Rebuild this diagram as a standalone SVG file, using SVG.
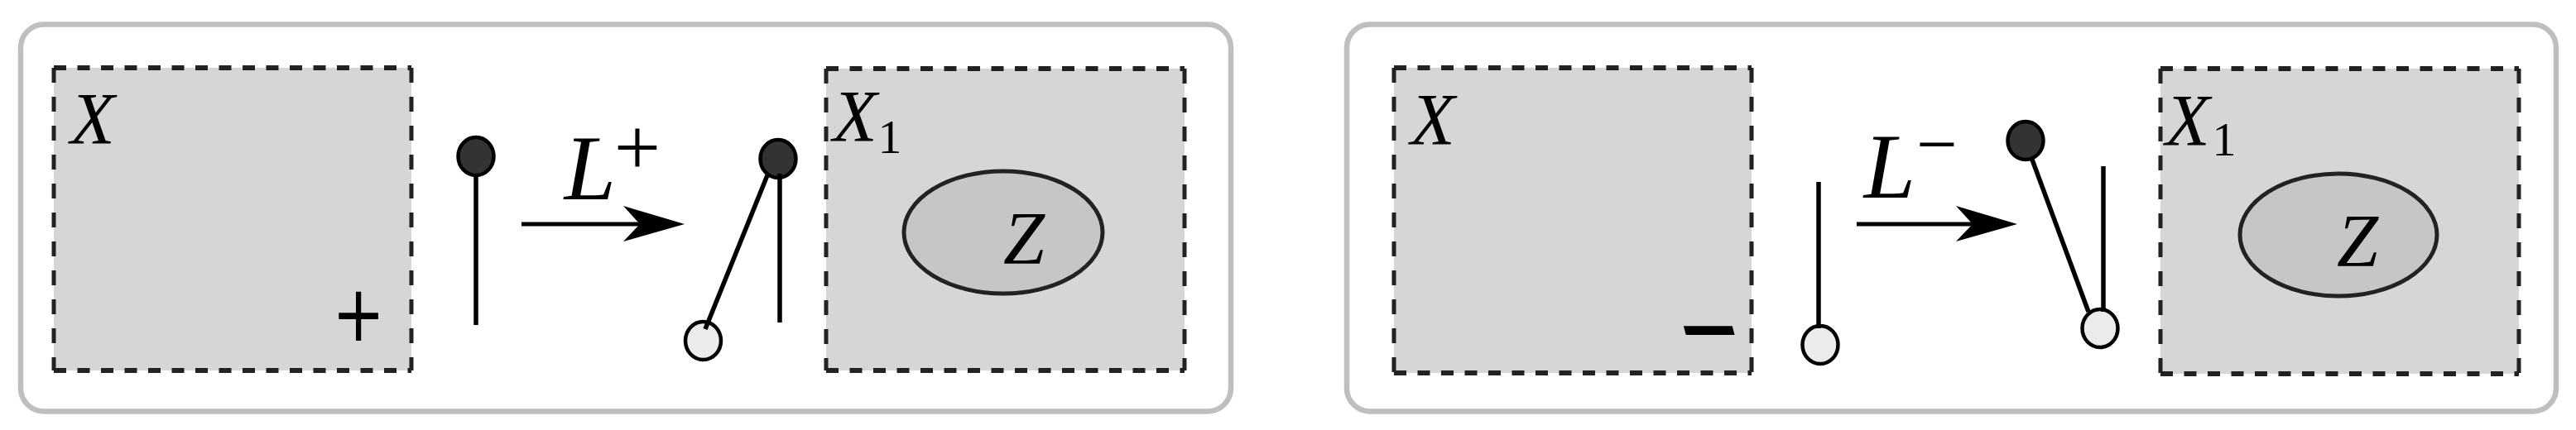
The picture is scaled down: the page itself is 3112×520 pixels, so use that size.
<svg xmlns="http://www.w3.org/2000/svg" width="3112" height="520" viewBox="0 0 3112 520">
<style>
.panel{fill:#ffffff;stroke:#bfbfbf;stroke-width:6.5}
.box{fill:#d6d6d6;stroke:none}
.dh{fill:none;stroke:#222222;stroke-width:6;stroke-dasharray:15 13.5}
.dv{fill:none;stroke:#222222;stroke-width:5;stroke-dasharray:18 17}
.math{font-family:"Liberation Serif","Times New Roman",serif;font-style:italic;fill:#000000}
.up{font-style:normal}
.sign{font-family:"DejaVu Sans",sans-serif;fill:#000000}
.head{fill:#333333;stroke:#000000;stroke-width:4.5}
.tail{fill:#ebebeb;stroke:#000000;stroke-width:4.5}
.stem{fill:none;stroke:#000000;stroke-width:5.5}
.zone{fill:#c6c6c6;stroke:#222222;stroke-width:5}
.arrow{fill:none;stroke:#000000;stroke-width:5;marker-end:url(#ah)}
</style>
<defs>
<marker id="ah" markerUnits="userSpaceOnUse" markerWidth="90" markerHeight="60" viewBox="-30 -30 90 60" refX="0" refY="0" orient="auto">
<path d="M54,0 L-20,-22 L0,0 L-20,21 Z" fill="#000000"/>
</marker>
</defs>

<g id="panel-plus">
<rect class="panel" x="25" y="29.5" width="1462" height="468" rx="28" ry="28"/>
</g>
<g id="panel-minus">
<rect class="panel" x="1627" y="29.5" width="1461" height="468" rx="28" ry="28"/>
</g>

<g id="box-X-plus">
<rect class="box" x="65" y="82" width="432" height="366"/>
<path class="dh" d="M65,82 H497 M65,448 H497"/>
<path class="dv" d="M65,82 V448 M497,82 V448"/>
<text class="math" x="112" y="173" font-size="88" text-anchor="middle">X</text>
<text class="sign" transform="translate(433,382) scale(1,1.25)" x="0" y="24" font-size="76" text-anchor="middle">+</text>
</g>

<g id="box-X1-plus">
<rect class="box" x="998" y="83" width="433" height="365"/>
<path class="dh" d="M998,83 H1431 M998,448 H1431"/>
<path class="dv" d="M998,83 V448 M1431,83 V448"/>
<text class="math" font-size="88"><tspan x="1033" y="170" text-anchor="middle">X</tspan><tspan class="up" x="1075" y="185" font-size="58" text-anchor="middle">1</tspan></text>
<g id="zone-Z-plus">
<ellipse class="zone" cx="1212" cy="281" rx="120" ry="74"/>
<text class="math" x="1237" y="319" font-size="90" text-anchor="middle">Z</text>
</g>
</g>

<g id="pin-plus-before">
<ellipse class="head" cx="575" cy="189" rx="21.5" ry="23"/>
<line class="stem" x1="575" y1="212" x2="575" y2="393"/>
</g>

<g id="pin-plus-after">
<ellipse class="head" cx="940" cy="192" rx="21.5" ry="23"/>
<ellipse class="tail" cx="849.5" cy="412" rx="21.5" ry="23"/>
<line class="stem" x1="942" y1="210" x2="942" y2="390"/>
<line class="stem" x1="927" y1="212" x2="852" y2="398"/>
</g>

<g id="box-X-minus">
<rect class="box" x="1684" y="82" width="432" height="369"/>
<path class="dh" d="M1684,82 H2116 M1684,451 H2116"/>
<path class="dv" d="M1684,82 V451 M2116,82 V451"/>
<text class="math" x="1731" y="174" font-size="88" text-anchor="middle">X</text>
<text class="sign" transform="translate(2064.5,398.5) skewX(15)" x="0" y="30" font-size="94" font-weight="bold" text-anchor="middle">−</text>
</g>

<g id="box-X1-minus">
<rect class="box" x="2610" y="83" width="433" height="369"/>
<path class="dh" d="M2610,83 H3043 M2610,452 H3043"/>
<path class="dv" d="M2610,83 V452 M3043,83 V452"/>
<text class="math" font-size="88"><tspan x="2643" y="175" text-anchor="middle">X</tspan><tspan class="up" x="2687" y="188" font-size="58" text-anchor="middle">1</tspan></text>
<g id="zone-Z-minus">
<ellipse class="zone" cx="2825" cy="284" rx="119" ry="74"/>
<text class="math" x="2848" y="322" font-size="90" text-anchor="middle">Z</text>
</g>
</g>

<g id="pin-minus-before">
<ellipse class="tail" cx="2199" cy="417" rx="21.5" ry="23"/>
<line class="stem" x1="2197" y1="220" x2="2197" y2="397"/>
</g>

<g id="pin-minus-after">
<ellipse class="head" cx="2447" cy="170" rx="21.5" ry="23"/>
<ellipse class="tail" cx="2537" cy="397" rx="21.5" ry="23"/>
<line class="stem" x1="2455" y1="193" x2="2523" y2="377"/>
<line class="stem" x1="2541" y1="201" x2="2541" y2="377"/>
</g>

<g id="connectors">
<g id="arrow-plus">
<line class="arrow" x1="630" y1="271" x2="773" y2="271"/>
<text class="math" font-size="112"><tspan x="713" y="241" text-anchor="middle">L</tspan><tspan class="up" x="770" y="212" font-size="100" text-anchor="middle">+</tspan></text>
</g>
<g id="arrow-minus">
<line class="arrow" x1="2243" y1="271" x2="2383" y2="271"/>
<text class="math" font-size="112"><tspan x="2283" y="239" text-anchor="middle">L</tspan><tspan class="up" x="2340" y="204" font-size="88" text-anchor="middle">−</tspan></text>
</g>
</g>
</svg>
